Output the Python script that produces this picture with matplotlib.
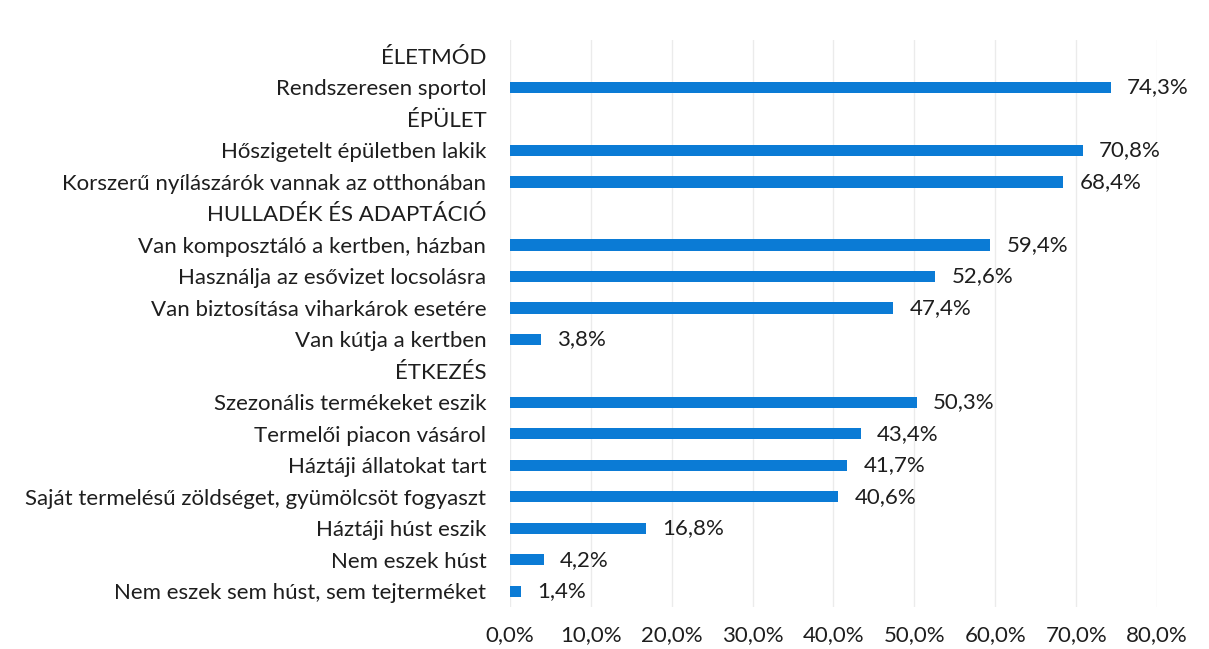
import matplotlib
matplotlib.use("Agg")
import matplotlib.pyplot as plt
import numpy as np

categories = [
    "ÉLETMÓD",
    "Rendszeresen sportol",
    "ÉPÜLET",
    "Hőszigetelt épületben lakik",
    "Korszerű nyílászárók vannak az otthonában",
    "HULLADÉK ÉS ADAPTÁCIÓ",
    "Van komposztáló a kertben, házban",
    "Használja az esővizet locsolásra",
    "Van biztosítása viharkárok esetére",
    "Van kútja a kertben",
    "ÉTKEZÉS",
    "Szezonális termékeket eszik",
    "Termelői piacon vásárol",
    "Háztáji állatokat tart",
    "Saját termelésű zöldséget, gyümölcsöt fogyaszt",
    "Háztáji húst eszik",
    "Nem eszek húst",
    "Nem eszek sem húst, sem tejterméket",
]
values = [np.nan, 74.3, np.nan, 70.8, 68.4, np.nan, 59.4, 52.6, 47.4, 3.8,
          np.nan, 50.3, 43.4, 41.7, 40.6, 16.8, 4.2, 1.4]
x_ticks = [0, 10, 20, 30, 40, 50, 60, 70, 80]

plt.rcParams['font.family'] = ['Lato', 'DejaVu Sans']
FS = 16
fig = plt.figure(figsize=(12.09, 6.49), dpi=100)
ax = fig.add_axes([0.4218, 0.0647, 0.957 - 0.4218, 0.938 - 0.0647])

y = np.arange(len(categories))
vals = np.array(values, dtype=float)
mask = ~np.isnan(vals)
ax.barh(y[mask], vals[mask], height=0.36, color='#0B7BD5', zorder=3)
for yi, v in zip(y[mask], vals[mask]):
    ax.text(v + 2.0, yi, f"{v:.1f}%".replace('.', ','), va='center', ha='left',
            fontsize=FS, color='#1E1E1E')

ax.set_yticks(y)
ax.set_yticklabels(categories, fontsize=FS, color='#1E1E1E')
ax.set_ylim(len(categories) - 0.5, -0.5)
ax.set_xlim(0, 80)
ax.set_xticks(x_ticks)
ax.set_xticklabels([f"{t:.1f}%".replace('.', ',') for t in x_ticks], fontsize=FS, color='#1E1E1E')
ax.tick_params(axis='y', length=0, pad=17)
ax.tick_params(axis='x', length=0, pad=13)
ax.grid(axis='x', color='#EBEBEB', linewidth=1, zorder=0)
for s in ax.spines.values():
    s.set_visible(False)

fig.savefig("out.png", dpi=100)
